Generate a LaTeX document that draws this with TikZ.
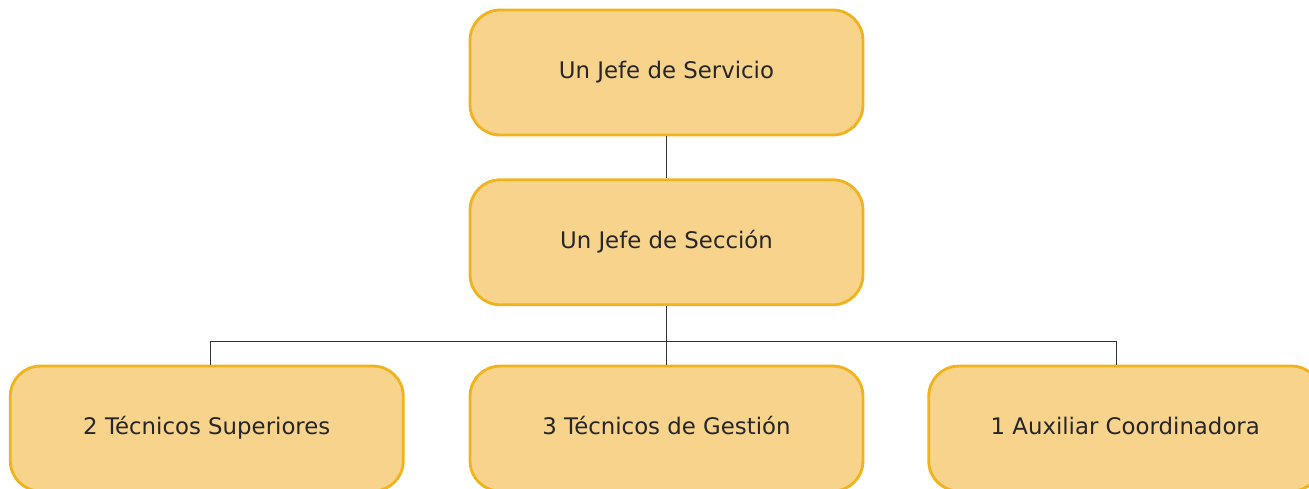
\documentclass[tikz,border=0pt]{standalone}
\usepackage{fontspec}
\setmainfont{DejaVu Sans}
\usetikzlibrary{positioning,calc}
\definecolor{postfill}{HTML}{F7D38C}
\definecolor{postedge}{HTML}{F0B31B}
\tikzset{
	post/.style={
		rectangle,
		rounded corners=0.6cm,
		draw=postedge,
		fill=postfill,
		line width=1.6pt,
		minimum width=7.86cm,
		minimum height=2.5cm,
		text=black!85,
		text height=1.5ex,text depth=.25ex, % same baseline in every box
		font=\fontsize{13}{15}\selectfont
	},
	link/.style={
		draw=black!80,
		line width=0.6pt
	}
}

\begin{document}
\begin{tikzpicture}[x=0.02cm,y=-0.02cm]
	\useasboundingbox (0,0) rectangle (1309,488);
	\clip (0,0) rectangle (1309,488);
	% chain of command
	\node[post] (servicio) at (666.5,72.5) {Un Jefe de Servicio};
	\node[post,below=0.84cm of servicio] (seccion) {Un Jefe de Sección};
	\node[post,below=1.17cm of seccion] (gestion) {3 Técnicos de Gestión};
	\node[post,left=1.28cm of gestion] (superiores) {2 Técnicos Superiores};
	\node[post,right=1.26cm of gestion] (auxiliar) {1 Auxiliar Coordinadora};
	% connectors
	\coordinate (bus) at ($(seccion.south)!0.6!(gestion.north)$);
	\draw[link] (servicio) -- (seccion);
	\draw[link] (seccion) -- (gestion);
	\draw[link] ([xshift=0.07cm]superiores.north) |- (bus) -| ([xshift=-0.17cm]auxiliar.north);
\end{tikzpicture}
\end{document}
